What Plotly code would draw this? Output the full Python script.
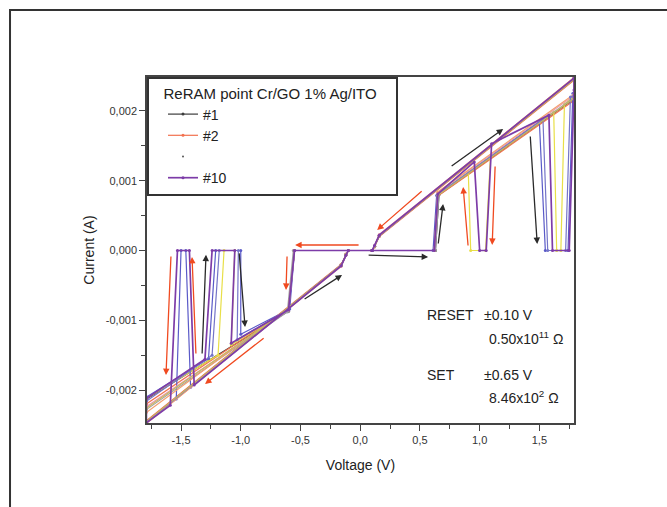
import plotly.graph_objects as go

# I-V sweeps of the Cr/GO 1% Ag/ITO point cell; voltage in V, current in mA
v_1 = [0.10, 0.63, 0.66, 1.79, 1.79, 0.16, 0.12, 0.10, -0.55, -0.60, -1.79, -1.79, -0.16, -0.12, -0.10, 0.10]
i_1 = [0, 0, 0.80, 2.17, 2.45, 0.21, 0.06, 0, 0, -0.87, -2.13, -2.45, -0.21, -0.06, 0, 0]

v_2 = [0.10, 0.62, 0.65, 1.79, 1.79, 0.16, 0.12, 0.10, -0.55, -0.60, -1.79, -1.79, -0.16, -0.12, -0.10, 0.10]
i_2 = [0, 0, 0.78, 2.15, 2.44, 0.20, 0.05, 0, 0, -0.83, -2.20, -2.44, -0.20, -0.05, 0, 0]

v_3 = [0.10, 0.62, 0.65, 0.905, 0.925, 1.05, 1.09, 1.62, 1.645, 1.68, 1.71, 1.79, 1.79, 0.16, 0.12, 0.10,
       -0.55, -0.60, -1.08, -1.05, -1.14, -1.19, -1.79, -1.79, -0.16, -0.12, -0.10, 0.10]
i_3 = [0, 0, 0.80, 1.12, 0, 0, 1.34, 1.99, 0, 0, 2.10, 2.21, 2.47, 0.22, 0.06, 0,
       0, -0.85, -1.35, 0, 0, -1.50, -2.12, -2.47, -0.22, -0.06, 0, 0]

v_4 = [0.10, 0.61, 0.64, 1.50, 1.55, 1.74, 1.78, 1.79, 1.79, 0.16, 0.12, 0.10,
       -0.55, -0.59, -1.00, -1.00, -1.21, -1.27, -1.79, -1.79, -1.54, -1.50, -1.46, -1.42, -0.16, -0.12, -0.10, 0.10]
i_4 = [0, 0, 0.79, 1.85, 0, 0, 2.25, 2.26, 2.46, 0.21, 0.06, 0,
       0, -0.84, -1.20, 0, 0, -1.55, -2.10, -2.46, -2.13, 0, 0, -1.96, -0.21, -0.06, 0, 0]

v_5 = [0.10, 0.62, 0.65, 1.79, 1.79, 0.16, 0.12, 0.10, -0.55, -0.60, -1.79, -1.79, -0.16, -0.12, -0.10, 0.10]
i_5 = [0, 0, 0.83, 2.22, 2.47, 0.23, 0.07, 0, 0, -0.86, -2.24, -2.47, -0.23, -0.07, 0, 0]

v_6 = [0.10, 0.63, 0.66, 1.79, 1.79, 0.16, 0.12, 0.10, -0.56, -0.61, -1.79, -1.79, -0.16, -0.12, -0.10, 0.10]
i_6 = [0, 0, 0.82, 2.19, 2.46, 0.22, 0.06, 0, 0, -0.88, -2.28, -2.46, -0.22, -0.06, 0, 0]

v_7 = [0.10, 0.62, 0.65, 1.79, 1.79, 0.16, 0.12, 0.10, -0.55, -0.60, -1.79, -1.79, -0.16, -0.12, -0.10, 0.10]
i_7 = [0, 0, 0.84, 2.24, 2.48, 0.22, 0.06, 0, 0, -0.82, -2.32, -2.48, -0.22, -0.06, 0, 0]

v_8 = [0.10, 0.62, 0.65, 1.53, 1.57, 1.72, 1.76, 1.79, 1.79, 0.16, 0.12, 0.10,
       -0.55, -0.60, -1.03, -1.02, -1.18, -1.24, -1.79, -1.79, -0.16, -0.12, -0.10, 0.10]
i_8 = [0, 0, 0.80, 1.88, 0, 0, 2.20, 2.22, 2.46, 0.21, 0.06, 0,
       0, -0.85, -1.28, 0, 0, -1.50, -2.16, -2.46, -0.21, -0.06, 0, 0]

v_9 = [0.10, 0.62, 0.65, 1.79, 1.79, 0.16, 0.12, 0.10, -0.55, -0.60, -1.79, -1.79, -0.16, -0.12, -0.10, 0.10]
i_9 = [0, 0, 0.79, 2.18, 2.45, 0.21, 0.06, 0, 0, -0.84, -2.26, -2.45, -0.21, -0.06, 0, 0]

v_10 = [0.10, 0.62, 0.65, 0.955, 1.00, 1.055, 1.10, 1.58, 1.61, 1.75, 1.79, 1.79, 0.16, 0.12, 0.10,
        -0.55, -0.60, -1.08, -1.05, -1.24, -1.30, -1.79, -1.79, -1.59, -1.53, -1.43, -1.39, -0.16, -0.12, -0.10, 0.10]
i_10 = [0, 0, 0.81, 1.27, 0, 0, 1.53, 1.94, 0, 0, 2.30, 2.47, 0.22, 0.07, 0,
        0, -0.85, -1.33, 0, 0, -1.56, -2.12, -2.47, -2.22, 0, 0, -1.93, -0.22, -0.07, 0, 0]

cycle_names = ["#1", "#2", "#3", "#4", "#5", "#6", "#7", "#8", "#9", "#10"]
cycle_v = [v_1, v_2, v_3, v_4, v_5, v_6, v_7, v_8, v_9, v_10]
cycle_i = [i_1, i_2, i_3, i_4, i_5, i_6, i_7, i_8, i_9, i_10]
cycle_colors = ["#3c3c3c", "#f2714f", "#e8df48", "#5a5ac8", "#e897b0",
                "#a0a0a0", "#f3a070", "#7474c8", "#c8b860", "#7d3ca8"]
in_legend = {"#1": 1, "#2": 2, "#10": 4}

x_tick_vals = [-1.5, -1.0, -0.5, 0.0, 0.5, 1.0, 1.5]
x_tick_text = ["-1,5", "-1,0", "-0,5", "0,0", "0,5", "1,0", "1,5"]
y_tick_vals = [-0.002, -0.001, 0.0, 0.001, 0.002]
y_tick_text = ["-0,002", "-0,001", "0,000", "0,001", "0,002"]

# direction arrows: (tail V, tail mA, head V, head mA, colour)
arrows = [
    (0.753, 1.197, 1.197, 1.742, "#2a2a2a"),
    (0.652, 0.079, 0.694, 0.667, "#2a2a2a"),
    (1.423, 1.656, 1.482, 0.093, "#2a2a2a"),
    (0.058, -0.065, 0.569, -0.093, "#2a2a2a"),
    (-0.478, -0.710, -0.152, -0.351, "#2a2a2a"),
    (-1.324, -1.498, -1.291, -0.06, "#2a2a2a"),
    (-1.014, -0.02, -0.964, -1.097, "#2a2a2a"),
    (0.527, 0.867, 0.142, 0.294, "#f04a20"),
    (-0.001, 0.079, -0.545, 0.079, "#f04a20"),
    (-0.612, -0.065, -0.621, -0.566, "#f04a20"),
    (-0.796, -1.240, -1.299, -1.914, "#f04a20"),
    (-1.584, -0.065, -1.626, -1.785, "#f04a20"),
    (-1.375, -1.498, -1.408, -0.093, "#f04a20"),
    (0.904, 0.050, 0.862, 0.910, "#f04a20"),
    (1.130, 1.226, 1.105, 0.079, "#f04a20"),
]

FONT = "Liberation Sans, Arial, sans-serif"
fig = go.Figure()

for name, vs, cs, col in zip(cycle_names, cycle_v, cycle_i, cycle_colors):
    if name == "#10":
        continue
    fig.add_trace(go.Scatter(
        x=vs, y=[c * 1e-3 for c in cs], mode="lines+markers", name=name,
        line=dict(color=col, width=1.2), marker=dict(size=3, color=col),
        showlegend=name in in_legend, legendrank=in_legend.get(name, 10),
    ))

# placeholder row in the legend between #2 and #10
fig.add_trace(go.Scatter(
    x=[None], y=[None], mode="markers", name=" ", marker=dict(size=2, color="#555"),
    legendrank=3,
))

fig.add_trace(go.Scatter(
    x=v_10, y=[c * 1e-3 for c in i_10], mode="lines+markers", name="#10",
    line=dict(color=cycle_colors[9], width=1.7), marker=dict(size=3, color=cycle_colors[9]),
    legendrank=4,
))

for tv, ti, hv, hi, col in arrows:
    fig.add_annotation(
        x=hv, y=hi * 1e-3, ax=tv, ay=ti * 1e-3, xref="x", yref="y", axref="x", ayref="y",
        showarrow=True, arrowhead=2, arrowsize=1, arrowwidth=1.3, arrowcolor=col, text="",
    )

labels = [
    (0.544, -0.925, "RESET"),
    (1.021, -0.925, "±0.10 V"),
    (1.063, -1.254, "0.50x10<sup>11</sup> Ω"),
    (0.544, -1.785, "SET"),
    (1.021, -1.785, "±0.65 V"),
    (1.063, -2.10, "8.46x10<sup>2</sup> Ω"),
]
for lv, li, txt in labels:
    fig.add_annotation(x=lv, y=li * 1e-3, xref="x", yref="y", text=txt, showarrow=False,
                       xanchor="left", yanchor="middle", font=dict(size=14, color="#222", family=FONT))

# page frame (left and top edges)
fig.add_shape(type="path", xref="paper", yref="paper",
              path="M -0.3208,-0.26 L -0.3208,1.1936 L 1.23,1.1936",
              line=dict(color="#333", width=2))

axis_common = dict(
    showline=True, linecolor="#444", linewidth=1.6, mirror=True,
    ticks="outside", ticklen=6, tickwidth=1.2, tickcolor="#444",
    showgrid=False, zeroline=False,
    tickfont=dict(size=11, color="#333", family=FONT),
    title_font=dict(size=14, color="#222", family=FONT),
)

fig.update_layout(
    width=667, height=507,
    margin=dict(l=147, r=93, t=77, b=84),
    paper_bgcolor="white", plot_bgcolor="white",
    font=dict(family=FONT),
    xaxis=dict(range=[-1.785, 1.79], tickvals=x_tick_vals, ticktext=x_tick_text,
               minor=dict(tickvals=[-1.75, -1.25, -0.75, -0.25, 0.25, 0.75, 1.25, 1.75],
                          ticks="outside", ticklen=4, tickcolor="#444"),
               title=dict(text="Voltage (V)", standoff=15), **axis_common),
    yaxis=dict(range=[-0.002473, 0.002487], tickvals=y_tick_vals, ticktext=y_tick_text,
               minor=dict(tickvals=[-0.0015, -0.0005, 0.0005, 0.0015],
                          ticks="outside", ticklen=4, tickcolor="#444"),
               title=dict(text="Current (A)", standoff=8), **axis_common),
    legend=dict(
        x=0, y=1, xanchor="left", yanchor="top",
        bgcolor="white", bordercolor="#333", borderwidth=2,
        font=dict(size=14, color="#222", family=FONT),
        title=dict(text="&nbsp;&nbsp;&nbsp;ReRAM point Cr/GO 1% Ag/ITO&nbsp;&nbsp;&nbsp;&nbsp;",
                   font=dict(size=15, color="#222", family=FONT)),
        indentation=14, tracegroupgap=0,
    ),
)

fig.write_html("out.html")
